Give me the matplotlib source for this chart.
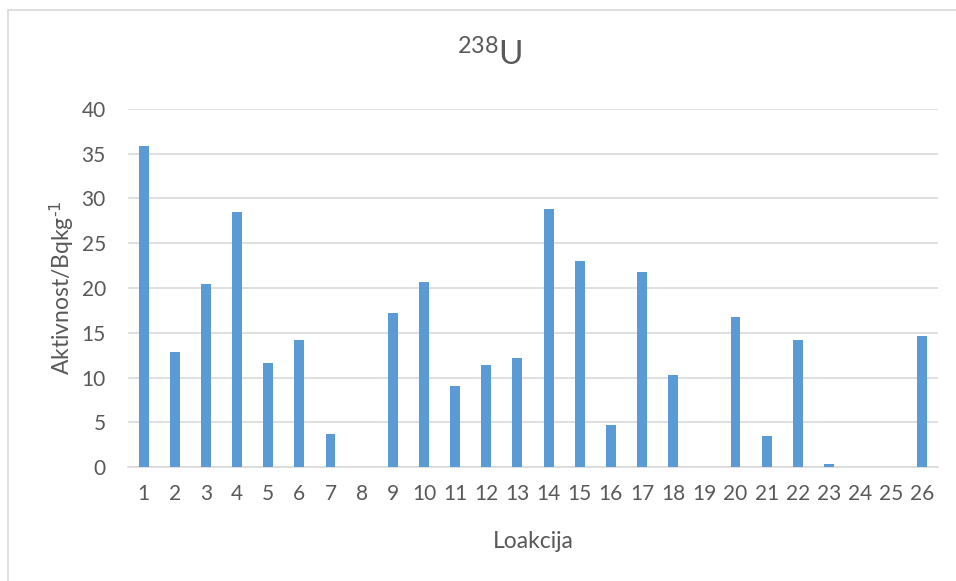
import matplotlib.pyplot as plt
from matplotlib.patches import Rectangle

# data
lokacije = [str(i) for i in range(1, 27)]
aktivnost = [35.9, 12.85, 20.45, 28.5, 11.6, 14.2, 3.7, 0, 17.2, 20.7,
             9.05, 11.4, 12.2, 28.8, 23.0, 4.7, 21.8, 10.3, 0, 16.8,
             3.5, 14.15, 0.3, 0, 0, 14.6]
y_ticks = [0, 5, 10, 15, 20, 25, 30, 35, 40]

plt.rcParams['font.family'] = ['Lato', 'DejaVu Sans']
plt.rcParams['mathtext.default'] = 'regular'
txt = '#595959'
grid = '#d9d9d9'

fig = plt.figure(figsize=(9.56, 5.81), dpi=100)
# outer chart frame
fig.patches.append(Rectangle((8 / 956, -0.05), 1.0, 1 - 10 / 581 + 0.05,
                             transform=fig.transFigure, fill=False,
                             edgecolor=grid, lw=1.2))

ax = fig.add_axes([128 / 956, 1 - 467 / 581, 810 / 956, 358 / 581])
x = list(range(1, len(lokacije) + 1))
ax.bar(x, aktivnost, width=0.32, color='#5b9bd5', zorder=3)

ax.set_xlim(0.5, 26.5)
ax.set_ylim(0, 40)
ax.set_xticks(x)
ax.set_xticklabels(lokacije)
ax.set_yticks(y_ticks)
ax.yaxis.grid(True, color=grid, lw=1.2, zorder=0)
ax.tick_params(length=0, labelsize=15, labelcolor=txt)
ax.tick_params(axis='x', pad=12)
ax.tick_params(axis='y', pad=16)
for s in ['top', 'right', 'left']:
    ax.spines[s].set_visible(False)
ax.spines['bottom'].set_color(grid)
ax.spines['bottom'].set_linewidth(1.2)

ax.set_xlabel('Loakcija', fontsize=16.5, color=txt, labelpad=20)
ax.set_ylabel(r'Aktivnost/Bqkg$^{\text{-1}}$', fontsize=16.5, color=txt,
              labelpad=4)

# title with superscript mass number
fig.text(0.512, 1 - 55 / 581, '$^{238}$U', fontsize=24, color=txt,
         ha='center', va='center')

fig.savefig('out.png', dpi=100)
